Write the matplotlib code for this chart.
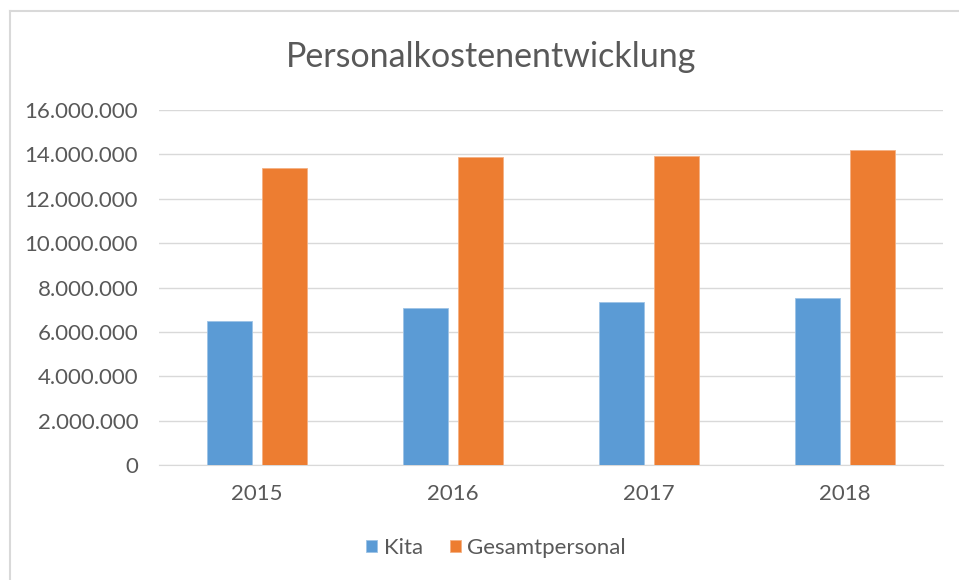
import matplotlib
matplotlib.use('Agg')
import matplotlib.pyplot as plt
import numpy as np
from matplotlib.ticker import FuncFormatter
from matplotlib.lines import Line2D

# Daten
jahre = ['2015', '2016', '2017', '2018']
kita = [6470000, 7060000, 7340000, 7510000]
gesamt = [13390000, 13860000, 13920000, 14200000]

blau = '#5B9BD5'
orange = '#ED7D31'
grau = '#595959'

plt.rcParams['font.family'] = ['Lato', 'DejaVu Sans']

fig = plt.figure(figsize=(9.59, 5.8), dpi=100)
ax = fig.add_axes([159 / 959, 1 - 465 / 580, 784 / 959, 355 / 580])

x = np.arange(len(jahre))
breite = 0.225
abstand = 0.056
ax.bar(x - (breite + abstand) / 2, kita, breite, color=blau, label='Kita',
       edgecolor='#9DC3E6', linewidth=0.6, zorder=3)
ax.bar(x + (breite + abstand) / 2, gesamt, breite, color=orange, label='Gesamtpersonal',
       edgecolor='#F4B183', linewidth=0.6, zorder=3)

ax.set_xlim(-0.5, 3.5)
ax.set_ylim(0, 16000000)
ax.set_yticks(np.arange(0, 16000001, 2000000))
ax.yaxis.set_major_formatter(FuncFormatter(lambda v, p: f'{int(v):,}'.replace(',', '.')))
ax.set_xticks(x)
ax.set_xticklabels(jahre)

ax.grid(axis='y', color='#D9D9D9', linewidth=1, zorder=0)
for s in ['top', 'right', 'left']:
    ax.spines[s].set_visible(False)
ax.spines['bottom'].set_color('#D9D9D9')
ax.tick_params(axis='both', length=0, colors=grau, labelsize=16)
ax.tick_params(axis='y', pad=15)
ax.tick_params(axis='x', pad=14)

fig.text(491 / 959, 1 - 57 / 580, 'Personalkostenentwicklung', ha='center', va='center',
         fontsize=24.5, color=grau)

fig.legend(loc='center', bbox_to_anchor=(496 / 959, 1 - 548 / 580), ncol=2, frameon=False,
           fontsize=16, labelcolor=grau, handlelength=0.5, handleheight=0.5,
           handletextpad=0.3, columnspacing=1.2)

# Rahmen des Diagrammbereichs
fig.add_artist(Line2D([10 / 959, 1], [1 - 11 / 580, 1 - 11 / 580], color='#D9D9D9', linewidth=1.5))
fig.add_artist(Line2D([10 / 959, 10 / 959], [0, 1 - 11 / 580], color='#D9D9D9', linewidth=1.5))

fig.savefig('out.png', dpi=100, facecolor='white')
